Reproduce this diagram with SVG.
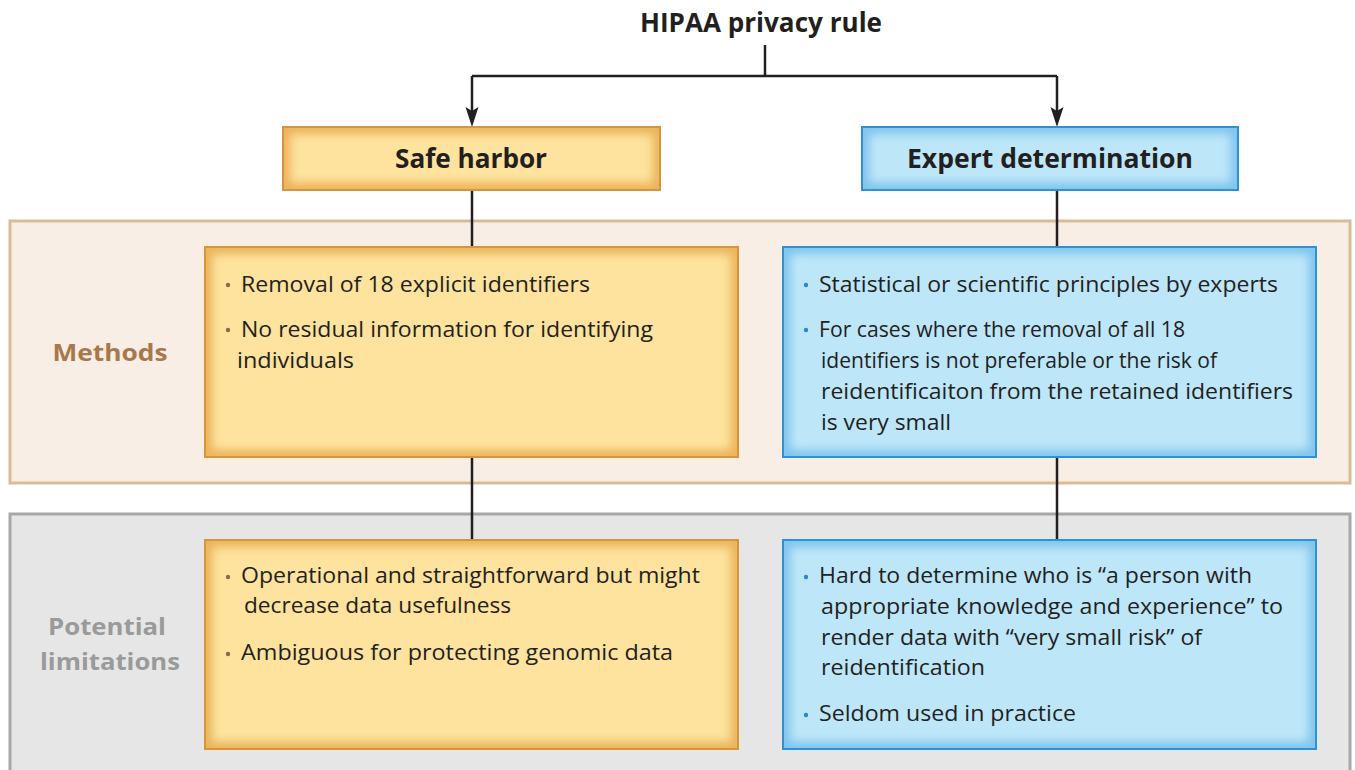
<svg xmlns="http://www.w3.org/2000/svg" width="1355" height="770" viewBox="0 0 1355 770">
  <style>
    .title { font-family: "Open Sans", "Liberation Sans", sans-serif; font-weight: 700; fill: #231f20; }
    .body { font-family: "Open Sans", "Liberation Sans", sans-serif; font-size: 21px; fill: #231f20; }
    .wire { fill: none; stroke: #231f20; stroke-width: 2.5; }
    .head { fill: #231f20; }
    .fo { fill: #fde39d; }
    .fb { fill: #bde6f9; }
    .so { fill: none; stroke: #eab25a; stroke-width: 14; filter: url(#soft); }
    .sb { fill: none; stroke: #7fc3ec; stroke-width: 14; filter: url(#soft); }
    .eo { fill: none; stroke: #d8943a; stroke-width: 2; }
    .eb { fill: none; stroke: #2b92d8; stroke-width: 2; }
    .bo { fill: #8b6a48; }
    .bb { fill: #2b86cc; }
  </style>
  <defs>
    <filter id="soft" x="-10%" y="-10%" width="120%" height="120%">
      <feGaussianBlur stdDeviation="5"/>
    </filter>
    <clipPath id="c-sh"><rect x="283" y="127" width="377" height="63"/></clipPath>
    <clipPath id="c-ed"><rect x="862" y="127" width="376" height="63"/></clipPath>
    <clipPath id="c-shm"><rect x="205" y="247" width="533" height="210"/></clipPath>
    <clipPath id="c-edm"><rect x="783" y="247" width="533" height="210"/></clipPath>
    <clipPath id="c-shl"><rect x="205" y="540" width="533" height="209"/></clipPath>
    <clipPath id="c-edl"><rect x="783" y="540" width="533" height="209"/></clipPath>
  </defs>

  <rect width="1355" height="770" fill="#ffffff"/>

  <!-- Row bands -->
  <g id="band-methods">
    <rect x="10" y="221" width="1340" height="262" fill="#f9eee6" stroke="#d9bc95" stroke-width="3"/>
    <text class="title" x="110" y="361" font-size="24" style="fill:#a8784a" text-anchor="middle" textLength="115" lengthAdjust="spacingAndGlyphs">Methods</text>
  </g>
  <g id="band-limitations">
    <rect x="10" y="514" width="1340" height="280" fill="#e6e6e6" stroke="#a7a7a7" stroke-width="3"/>
    <text class="title" x="107" y="635" font-size="24" style="fill:#9a9a9a" text-anchor="middle" textLength="118" lengthAdjust="spacingAndGlyphs">Potential</text>
    <text class="title" x="110" y="670" font-size="24" style="fill:#9a9a9a" text-anchor="middle" textLength="140" lengthAdjust="spacingAndGlyphs">limitations</text>
  </g>

  <!-- Connectors -->
  <g id="connectors">
    <path class="wire" d="M765,45 V76"/>
    <path class="wire" d="M472,76 H1057"/>
    <path class="wire" d="M472,76 V114"/>
    <path class="wire" d="M1057,76 V114"/>
    <path class="head" d="M472,127 L465.5,107 L472,111 L478.5,107 Z"/>
    <path class="head" d="M1057,127 L1050.5,107 L1057,111 L1063.5,107 Z"/>
    <path class="wire" d="M472,190 V247 M472,457 V540"/>
    <path class="wire" d="M1057,190 V247 M1057,457 V540"/>
  </g>

  <!-- Root -->
  <g id="hipaa">
    <text class="title" x="761" y="32" font-size="26" text-anchor="middle" textLength="242" lengthAdjust="spacingAndGlyphs">HIPAA privacy rule</text>
  </g>

  <!-- Branch heads -->
  <g id="safe-harbor">
    <rect class="fo" x="283" y="127" width="377" height="63"/>
    <rect class="so" x="283" y="127" width="377" height="63" clip-path="url(#c-sh)"/>
    <rect class="eo" x="283" y="127" width="377" height="63"/>
    <text class="title" x="471" y="168" font-size="26" text-anchor="middle" textLength="152" lengthAdjust="spacingAndGlyphs">Safe harbor</text>
  </g>
  <g id="expert-determination">
    <rect class="fb" x="862" y="127" width="376" height="63"/>
    <rect class="sb" x="862" y="127" width="376" height="63" clip-path="url(#c-ed)"/>
    <rect class="eb" x="862" y="127" width="376" height="63"/>
    <text class="title" x="1050" y="168" font-size="26" text-anchor="middle" textLength="286" lengthAdjust="spacingAndGlyphs">Expert  determination</text>
  </g>

  <!-- Methods -->
  <g id="safe-harbor-methods">
    <rect class="fo" x="205" y="247" width="533" height="210"/>
    <rect class="so" x="205" y="247" width="533" height="210" clip-path="url(#c-shm)"/>
    <rect class="eo" x="205" y="247" width="533" height="210"/>
    <circle class="bo" cx="228" cy="285" r="2.2"/>
    <text class="body" x="241" y="292" textLength="349" lengthAdjust="spacingAndGlyphs">Removal of 18 explicit identifiers</text>
    <circle class="bo" cx="228" cy="330" r="2.2"/>
    <text class="body" x="241" y="337" textLength="412" lengthAdjust="spacingAndGlyphs">No residual information for identifying</text>
    <text class="body" x="237" y="368" textLength="117" lengthAdjust="spacingAndGlyphs">individuals</text>
  </g>
  <g id="expert-methods">
    <rect class="fb" x="783" y="247" width="533" height="210"/>
    <rect class="sb" x="783" y="247" width="533" height="210" clip-path="url(#c-edm)"/>
    <rect class="eb" x="783" y="247" width="533" height="210"/>
    <circle class="bb" cx="806" cy="285" r="2.2"/>
    <text class="body" x="819" y="292" textLength="459" lengthAdjust="spacingAndGlyphs">Statistical or scientific principles by experts</text>
    <circle class="bb" cx="806" cy="330" r="2.2"/>
    <text class="body" x="819" y="337" textLength="366" lengthAdjust="spacingAndGlyphs">For cases where the removal of all 18</text>
    <text class="body" x="821" y="368" textLength="396" lengthAdjust="spacingAndGlyphs">identifiers is not preferable or the risk of</text>
    <text class="body" x="821" y="399" textLength="472" lengthAdjust="spacingAndGlyphs">reidentificaiton from the retained identifiers</text>
    <text class="body" x="821" y="430" textLength="130" lengthAdjust="spacingAndGlyphs">is very small</text>
  </g>

  <!-- Potential limitations -->
  <g id="safe-harbor-limitations">
    <rect class="fo" x="205" y="540" width="533" height="209"/>
    <rect class="so" x="205" y="540" width="533" height="209" clip-path="url(#c-shl)"/>
    <rect class="eo" x="205" y="540" width="533" height="209"/>
    <circle class="bo" cx="228" cy="577" r="2.2"/>
    <text class="body" x="241" y="583" textLength="459" lengthAdjust="spacingAndGlyphs">Operational and straightforward but might</text>
    <text class="body" x="244" y="613" textLength="267" lengthAdjust="spacingAndGlyphs">decrease data usefulness</text>
    <circle class="bo" cx="228" cy="654" r="2.2"/>
    <text class="body" x="241" y="660" textLength="432" lengthAdjust="spacingAndGlyphs">Ambiguous for protecting genomic data</text>
  </g>
  <g id="expert-limitations">
    <rect class="fb" x="783" y="540" width="533" height="209"/>
    <rect class="sb" x="783" y="540" width="533" height="209" clip-path="url(#c-edl)"/>
    <rect class="eb" x="783" y="540" width="533" height="209"/>
    <circle class="bb" cx="806" cy="577" r="2.2"/>
    <text class="body" x="819" y="583" textLength="433" lengthAdjust="spacingAndGlyphs">Hard to determine who is “a person with</text>
    <text class="body" x="821" y="614" textLength="462" lengthAdjust="spacingAndGlyphs">appropriate knowledge and experience” to</text>
    <text class="body" x="821" y="645" textLength="381" lengthAdjust="spacingAndGlyphs">render data with “very small risk” of</text>
    <text class="body" x="821" y="675" textLength="164" lengthAdjust="spacingAndGlyphs">reidentification</text>
    <circle class="bb" cx="806" cy="715" r="2.2"/>
    <text class="body" x="819" y="721" textLength="257" lengthAdjust="spacingAndGlyphs">Seldom used in practice</text>
  </g>
</svg>
